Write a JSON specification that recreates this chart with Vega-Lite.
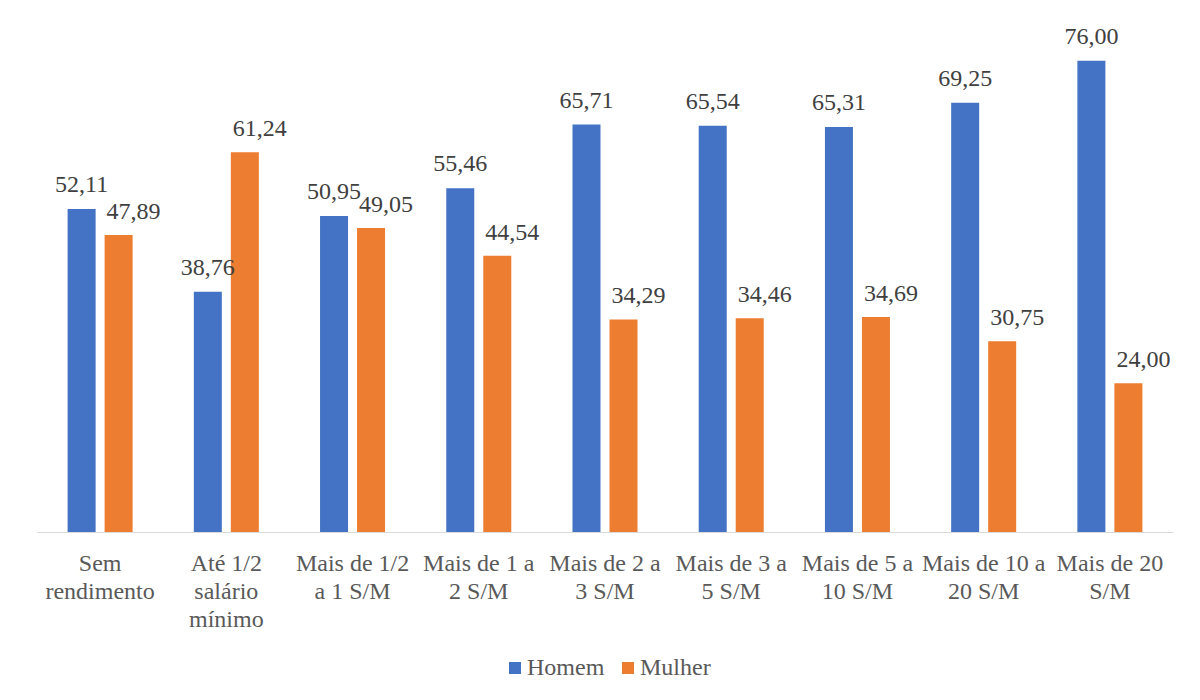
{
  "$schema": "https://vega.github.io/schema/vega-lite/v6.json",
  "width": 1136,
  "height": 496,
  "autosize": "none",
  "padding": {"left": 37, "top": 36, "right": 27, "bottom": 168},
  "background": "white",
  "config": {
    "view": {"stroke": null},
    "font": "Liberation Serif",
    "locale": {"number": {"decimal": ",", "thousands": ".", "grouping": [3], "currency": ["R$", ""]}}
  },
  "data": {
    "values": [
      {"faixa": "Sem\nrendimento", "sexo": "Homem", "valor": 52.11},
      {"faixa": "Sem\nrendimento", "sexo": "Mulher", "valor": 47.89},
      {"faixa": "Até 1/2\nsalário\nmínimo", "sexo": "Homem", "valor": 38.76},
      {"faixa": "Até 1/2\nsalário\nmínimo", "sexo": "Mulher", "valor": 61.24},
      {"faixa": "Mais de 1/2\na 1 S/M", "sexo": "Homem", "valor": 50.95},
      {"faixa": "Mais de 1/2\na 1 S/M", "sexo": "Mulher", "valor": 49.05},
      {"faixa": "Mais de 1 a\n2 S/M", "sexo": "Homem", "valor": 55.46},
      {"faixa": "Mais de 1 a\n2 S/M", "sexo": "Mulher", "valor": 44.54},
      {"faixa": "Mais de 2 a\n3 S/M", "sexo": "Homem", "valor": 65.71},
      {"faixa": "Mais de 2 a\n3 S/M", "sexo": "Mulher", "valor": 34.29},
      {"faixa": "Mais de 3 a\n5 S/M", "sexo": "Homem", "valor": 65.54},
      {"faixa": "Mais de 3 a\n5 S/M", "sexo": "Mulher", "valor": 34.46},
      {"faixa": "Mais de 5 a\n10 S/M", "sexo": "Homem", "valor": 65.31},
      {"faixa": "Mais de 5 a\n10 S/M", "sexo": "Mulher", "valor": 34.69},
      {"faixa": "Mais de 10 a\n20 S/M", "sexo": "Homem", "valor": 69.25},
      {"faixa": "Mais de 10 a\n20 S/M", "sexo": "Mulher", "valor": 30.75},
      {"faixa": "Mais de 20\nS/M", "sexo": "Homem", "valor": 76.00},
      {"faixa": "Mais de 20\nS/M", "sexo": "Mulher", "valor": 24.00}
    ]
  },
  "encoding": {
    "x": {
      "field": "faixa",
      "type": "nominal",
      "sort": null,
      "scale": {"paddingInner": 0.4136, "paddingOuter": 0.2068},
      "axis": {
        "title": null,
        "labelAngle": 0,
        "labelExpr": "split(datum.value, '\\n')",
        "labelFont": "Liberation Serif",
        "labelFontSize": 24,
        "labelColor": "#595959",
        "labelLineHeight": 28,
        "labelPadding": 19,
        "labelLimit": 0,
        "labelOverlap": false,
        "ticks": false,
        "domainColor": "#d9d9d9",
        "domainWidth": 1
      }
    },
    "xOffset": {
      "field": "sexo",
      "type": "nominal",
      "sort": ["Homem", "Mulher"],
      "scale": {"paddingInner": 0.2432, "paddingOuter": 0.1216}
    },
    "y": {
      "field": "valor",
      "type": "quantitative",
      "scale": {"domain": [0, 80], "nice": false},
      "axis": null
    }
  },
  "layer": [
    {
      "mark": {"type": "bar"},
      "encoding": {
        "color": {
          "field": "sexo",
          "type": "nominal",
          "scale": {"domain": ["Homem", "Mulher"], "range": ["#4472C4", "#ED7D31"]},
          "legend": {
            "title": null,
            "orient": "none",
            "legendX": 466,
            "legendY": 620,
            "direction": "horizontal",
            "symbolType": "square",
            "symbolSize": 144,
            "symbolStrokeWidth": 0,
            "labelFont": "Liberation Serif",
            "labelFontSize": 24,
            "labelColor": "#595959",
            "labelOffset": 0,
            "columnPadding": 11
          }
        }
      }
    },
    {
      "transform": [{"filter": "datum.sexo === 'Homem'"}],
      "mark": {"type": "text", "baseline": "middle", "align": "center", "dy": -24, "font": "Liberation Serif", "fontSize": 24, "color": "#404040"},
      "encoding": {"text": {"field": "valor", "type": "quantitative", "format": ".2f"}}
    },
    {
      "transform": [{"filter": "datum.sexo === 'Mulher'"}],
      "mark": {"type": "text", "baseline": "middle", "align": "center", "dx": 15, "dy": -23, "font": "Liberation Serif", "fontSize": 24, "color": "#404040"},
      "encoding": {"text": {"field": "valor", "type": "quantitative", "format": ".2f"}}
    }
  ]
}
